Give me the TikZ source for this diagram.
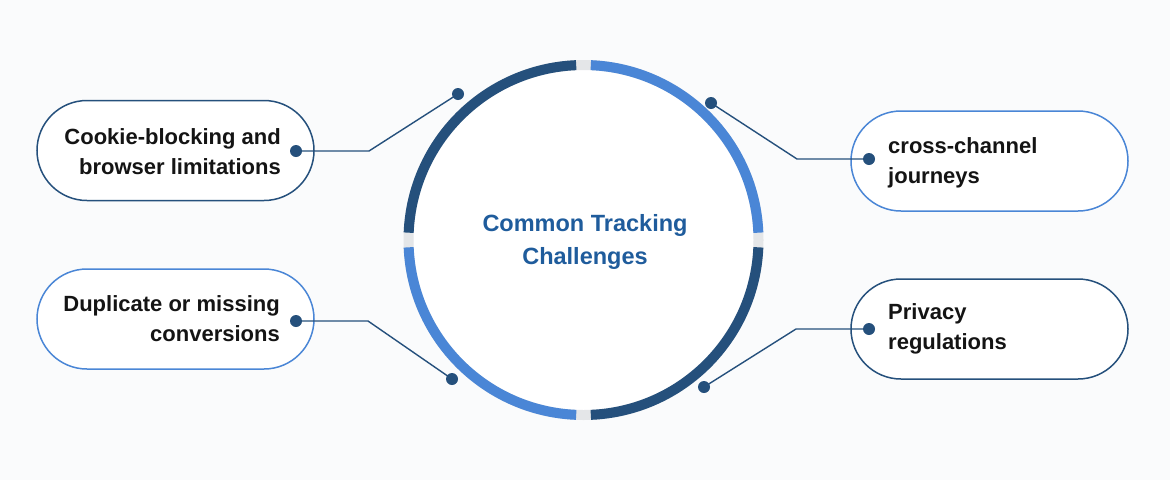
\documentclass[tikz,border=0pt]{standalone}
\usepackage{fontspec}
\setmainfont{Liberation Sans}
\usetikzlibrary{calc}
\definecolor{bg}{HTML}{FAFBFC}
\definecolor{darkb}{HTML}{25507C}
\definecolor{lightb}{HTML}{4A86D6}
\definecolor{gapc}{HTML}{E4E6E8}
\definecolor{titlec}{HTML}{1F5C9C}
\definecolor{txt}{HTML}{141414}
\tikzset{
  pilldark/.style={draw=darkb, line width=1.5pt, fill=white, rounded corners=50pt, minimum width=277pt, minimum height=100pt, inner sep=0pt},
  pilllight/.style={pilldark, draw=lightb},
  dotn/.style={circle, fill=darkb, inner sep=0pt, minimum size=12pt},
  conn/.style={draw=darkb, line width=1.4pt},
  label/.style={font=\fontsize{22}{30}\selectfont\bfseries, text=txt, inner sep=0pt},
  ringseg/.style={line width=10pt},
}
\begin{document}
\begin{tikzpicture}[x=1pt,y=-1pt]
\fill[bg] (0,0) rectangle (1170,480);
\useasboundingbox (0,0) rectangle (1170,480);
% centre circle
\coordinate (c) at (583.5,240);
\fill[white] (c) circle (170);
\draw[gapc, ringseg] (c) circle (175);
\draw[darkb, ringseg] ([shift={(c)}]182.4:175) arc[start angle=182.4, end angle=267.6, radius=175];
\draw[lightb, ringseg] ([shift={(c)}]272.4:175) arc[start angle=272.4, end angle=357.6, radius=175];
\draw[darkb, ringseg] ([shift={(c)}]2.4:175) arc[start angle=2.4, end angle=87.6, radius=175];
\draw[lightb, ringseg] ([shift={(c)}]92.4:175) arc[start angle=92.4, end angle=177.6, radius=175];
\node[font=\fontsize{23.5}{33}\selectfont\bfseries, text=titlec, align=center, anchor=base] (title) at (585,264) {Common Tracking\\Challenges};
% pills
\node[pilldark] (p1) at (175.5,150.5) {};
\node[pilllight] (p2) at (175.5,319) {};
\node[pilllight] (p3) at (989.5,161) {};
\node[pilldark] (p4) at (989.5,329) {};
% labels
\node[label, align=right, anchor=base east] (t1) at (281,174) {Cookie-blocking and\\browser limitations};
\node[label, align=right, anchor=base east] (t2) at (280,341) {Duplicate or missing\\conversions};
\node[label, align=left, anchor=base west] (t3) at (888,183) {cross-channel\\journeys};
\node[label, align=left, anchor=base west] (t4) at (888,349) {Privacy\\regulations};
% dots
\node[dotn] (d1) at (296,151) {};
\node[dotn] (d2) at (296,321) {};
\node[dotn] (d3) at (869,159) {};
\node[dotn] (d4) at (869,329) {};
\node[dotn] (e1) at (458,94) {};
\node[dotn] (e2) at (452,379) {};
\node[dotn] (e3) at (711,103) {};
\node[dotn] (e4) at (704,387) {};
\coordinate (k1) at (369,151);
\coordinate (k2) at (368,321);
\coordinate (k3) at (797,159);
\coordinate (k4) at (796,329);
\draw[conn] (d1.center) -- (k1) -- (e1.center);
\draw[conn] (d2.center) -- (k2) -- (e2.center);
\draw[conn] (d3.center) -- (k3) -- (e3.center);
\draw[conn] (d4.center) -- (k4) -- (e4.center);
\end{tikzpicture}
\end{document}
